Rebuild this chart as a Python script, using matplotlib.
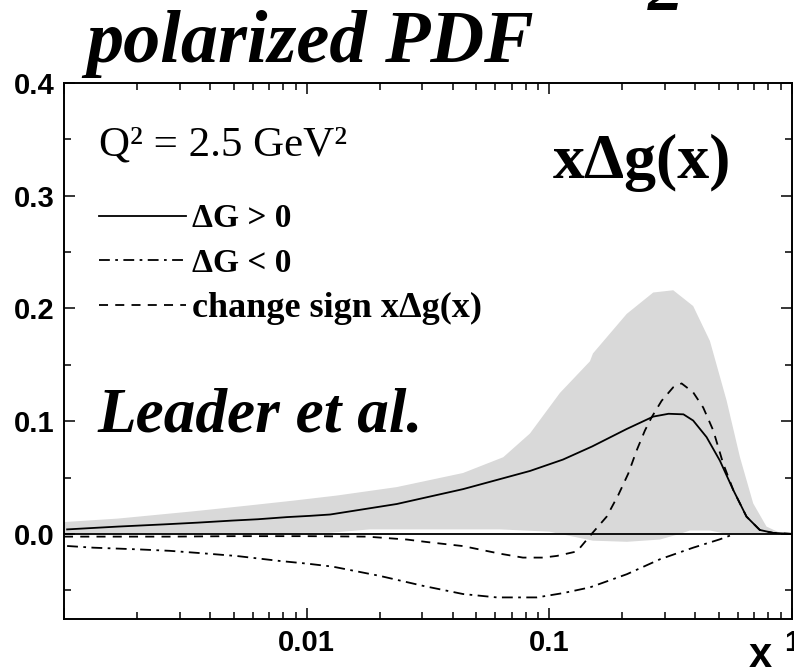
import numpy as np
import matplotlib
matplotlib.use("Agg")
import matplotlib.pyplot as plt
from matplotlib.ticker import FixedLocator, FixedFormatter, NullFormatter

# ---- data ----
# Delta G > 0 (solid)
x_pos = [0.00103, 0.00167, 0.00261, 0.00356, 0.00492, 0.0063, 0.0083, 0.0103, 0.0125,
         0.0235, 0.0441, 0.0832, 0.1138, 0.150, 0.2083, 0.268, 0.31, 0.357, 0.3915, 0.4446,
         0.5043, 0.5725, 0.6495, 0.7366, 0.8356, 1.0]
y_pos = [0.004, 0.0065, 0.0085, 0.010, 0.0118, 0.013, 0.0149, 0.016, 0.0172,
         0.0265, 0.0397, 0.0558, 0.0659, 0.0775, 0.093, 0.104, 0.1065, 0.106, 0.1005, 0.0858,
         0.065, 0.039, 0.0153, 0.0035, 0.0009, 0.0]

# Delta G < 0 (dash-dot)
x_neg = [0.00103, 0.00132, 0.00202, 0.00273, 0.00374, 0.00516, 0.00776, 0.0100, 0.0128,
         0.0200, 0.0301, 0.0441, 0.0608, 0.0889, 0.1138, 0.147, 0.2088, 0.2855, 0.3915,
         0.5043, 0.5637]
y_neg = [-0.0107, -0.0122, -0.0137, -0.015, -0.0172, -0.0196, -0.024, -0.0263, -0.029,
         -0.0372, -0.046, -0.0533, -0.0563, -0.0563, -0.0525, -0.0474, -0.0357, -0.0225, -0.0122,
         -0.0048, -0.001]

# change sign x dg(x) (dashed)
x_chg = [0.001, 0.0027, 0.005, 0.01, 0.0177, 0.0259, 0.0313, 0.0441, 0.0625, 0.0778,
         0.0942, 0.1075, 0.130, 0.1494, 0.1723, 0.1923, 0.2115, 0.229, 0.2477, 0.264,
         0.2902, 0.324, 0.3508, 0.3915, 0.4307, 0.4737, 0.5205, 0.5725, 0.6495, 0.7366,
         0.8356, 1.0]
y_chg = [-0.0024, -0.0024, -0.002, -0.002, -0.0024, -0.005, -0.0072, -0.0108, -0.0175, -0.021,
         -0.021, -0.0195, -0.0155, 0.0, 0.0153, 0.0344, 0.0535, 0.074, 0.0917, 0.1034,
         0.118, 0.130, 0.1334, 0.1255, 0.112, 0.0917, 0.0623, 0.039, 0.0153, 0.0035,
         0.0009, 0.0]

# error band
x_band_hi = [0.001, 0.00167, 0.0034, 0.00566, 0.00881, 0.0133, 0.0235, 0.0441, 0.0646,
             0.0832, 0.1106, 0.147, 0.1513, 0.2083, 0.268, 0.324, 0.3915, 0.459, 0.538,
             0.6103, 0.6922, 0.7852, 0.891]
y_band_hi = [0.0105, 0.0136, 0.020, 0.025, 0.0295, 0.034, 0.0415, 0.054, 0.068,
             0.089, 0.125, 0.153, 0.160, 0.195, 0.214, 0.216, 0.202, 0.171, 0.118,
             0.068, 0.027, 0.0065, 0.001]
x_band_lo = [0.001, 0.0125, 0.0182, 0.0625, 0.1, 0.1106, 0.1513, 0.2088, 0.2855, 0.345,
             0.3795, 0.459, 0.5395, 0.891]
y_band_lo = [0.0, 0.001, 0.004, 0.004, 0.002, 0.0, -0.006, -0.007, -0.005, 0.0,
             0.003, 0.003, 0.0, 0.0]

xticks = [1e-3, 1e-2, 1e-1, 1.0]
xtick_labels = ['', '0.01', '0.1', '1']
yticks = [0.0, 0.1, 0.2, 0.3, 0.4]
ytick_labels = ['0.0', '0.1', '0.2', '0.3', '0.4']

plt.rcParams['font.family'] = 'Liberation Sans'

W, H = 794, 670
fig = plt.figure(figsize=(W / 100, H / 100), dpi=100)
ax = fig.add_axes([64 / W, (H - 619.3) / H, 728 / W, 536.6 / H])

ax.fill(np.concatenate([x_band_hi, x_band_lo[::-1]]),
        np.concatenate([y_band_hi, y_band_lo[::-1]]),
        color='#d9d9d9', lw=0, zorder=1)
ax.axhline(0, color='black', lw=1.3, zorder=2)
ax.plot(x_pos, y_pos, color='black', lw=1.3, label='ΔG > 0', zorder=3)
ax.plot(x_neg, y_neg, color='black', lw=1.3, linestyle=(0, (6, 3, 1.5, 3)),
        label='ΔG < 0', zorder=3)
ax.plot(x_chg, y_chg, color='black', lw=1.3, linestyle=(0, (5, 4)),
        label='change sign xΔg(x)', zorder=3)

ax.set_xscale('log')
ax.set_xlim(1e-3, 1)
ax.set_ylim(-0.0757, 0.4)

ax.xaxis.set_major_locator(FixedLocator(xticks))
ax.xaxis.set_major_formatter(FixedFormatter(xtick_labels))
minor_x = [m * 10.0 ** e for e in (-3, -2, -1) for m in range(2, 10)]
ax.xaxis.set_minor_locator(FixedLocator(minor_x))
ax.xaxis.set_minor_formatter(NullFormatter())
ax.yaxis.set_major_locator(FixedLocator(yticks))
ax.yaxis.set_major_formatter(FixedFormatter(ytick_labels))
ax.yaxis.set_minor_locator(FixedLocator([-0.05, 0.05, 0.15, 0.25, 0.35]))

ax.tick_params(which='both', direction='in', top=True, right=True, width=1.1)
ax.tick_params(which='major', length=8)
ax.tick_params(which='minor', length=5)
ax.tick_params(axis='x', pad=7, labelsize=21)
ax.tick_params(axis='y', pad=7, labelsize=21)
for lab in ax.get_xticklabels() + ax.get_yticklabels():
    lab.set_fontweight('bold')
for sp in ax.spines.values():
    sp.set_linewidth(1.4)

serif = 'Liberation Serif'
leg = ax.legend(loc='upper left', bbox_to_anchor=(0.048, 0.775), frameon=False,
                borderpad=0, borderaxespad=0, handlelength=2.6, handletextpad=0.2,
                labelspacing=0.4, prop={'family': serif, 'weight': 'bold', 'size': 24})
leg.get_texts()[2].set_fontsize(26)

ax.text(0.048, (619.3 - 155) / 536.6, 'Q² = 2.5 GeV²', transform=ax.transAxes,
        family=serif, fontsize=31, ha='left', va='baseline')
ax.text((553 - 64) / 728, (619.3 - 178) / 536.6, 'xΔg(x)', transform=ax.transAxes,
        family=serif, fontweight='bold', fontsize=46, ha='left', va='baseline')
ax.text((97 - 64) / 728, (619.3 - 431.7) / 536.6, 'Leader et al.', transform=ax.transAxes,
        family=serif, fontweight='bold', fontstyle='italic', fontsize=45.5,
        ha='left', va='baseline')

fig.text(86 / W, 1 - 62 / H, 'polarized PDF', family=serif, fontweight='bold',
         fontstyle='italic', fontsize=53.5, ha='left', va='baseline')
fig.text(648 / W, 1 - 10 / H, '2', family=serif, fontweight='bold',
         fontstyle='italic', fontsize=51, ha='left', va='baseline')
fig.text(760 / W, 1 - 667 / H, 'x', fontweight='bold', fontsize=30,
         ha='center', va='baseline')

fig.savefig('out.png', dpi=100)
